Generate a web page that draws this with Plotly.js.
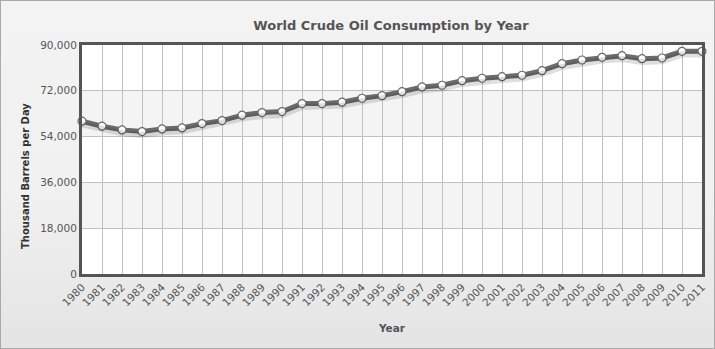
<!DOCTYPE html>
<html>
<head>
<meta charset="utf-8">
<script src="https://cdn.plot.ly/plotly-3.0.1.min.js"></script>
<style>
html,body{margin:0;padding:0;}
#wrap{width:715px;height:349px;box-sizing:border-box;border:1px solid #aaaaaa;background:linear-gradient(#f3f3f3 0%,#f1f1f1 55%,#e4e4e4 100%);}
#chart{width:713px;height:347px;}
</style>
</head>
<body>
<div id="wrap"><div id="chart"></div></div>
<script>
const years = [1980,1981,1982,1983,1984,1985,1986,1987,1988,1989,1990,1991,1992,1993,1994,1995,1996,1997,1998,1999,2000,2001,2002,2003,2004,2005,2006,2007,2008,2009,2010,2011];
const consumption = [60050,58090,56640,55970,57030,57420,59110,60290,62410,63430,63820,66960,66960,67510,69080,70100,71670,73510,74180,75990,76930,77560,78110,79910,82660,84110,85170,85800,84620,84900,87530,87530];
const yTicks = [0,18000,36000,54000,72000,90000];
const bands = [[18000,36000],[54000,72000]];

const font = "Verdana, 'DejaVu Sans', sans-serif";

const shapes = bands.map(b => ({
  type:'rect', xref:'paper', yref:'y', x0:0, x1:1, y0:b[0], y1:b[1],
  fillcolor:'#f4f4f4', line:{width:0}, layer:'below'
}));

const traces = [
  {x:years, y:consumption, type:'scatter', mode:'lines', hoverinfo:'skip', yaxis:'y2',
   line:{color:'rgba(0,0,0,0.13)', width:6}, showlegend:false},
  {x:years, y:consumption, type:'scatter', mode:'lines+markers',
   line:{color:'#6b6b6b', width:5},
   marker:{size:8, color:'#ffffff', line:{color:'#6b6b6b', width:1.2}},
   cliponaxis:false, showlegend:false}
];

const layout = {
  width:713, height:347,
  margin:{l:81, r:12, t:44, b:74},
  paper_bgcolor:'rgba(0,0,0,0)',
  plot_bgcolor:'#ffffff',
  title:{text:'<b>World Crude Oil Consumption by Year</b>', font:{family:font, size:13, color:'#555555'}, x:0.547, xanchor:'center', yref:'container', y:0.93, yanchor:'middle'},
  xaxis:{
    range:[1980,2011], tickvals:years, ticktext:years.map(String), tickangle:-45,
    tickfont:{family:font, size:10.5, color:'#555555'},
    showgrid:true, gridcolor:'#c0c0c0', gridwidth:1,
    showline:true, linecolor:'#555555', linewidth:3, mirror:true,
    ticks:'', zeroline:false,
    title:{text:'<b>Year</b>', font:{family:font, size:10.5, color:'#555555'}, standoff:18}
  },
  yaxis:{
    range:[0,90000], tickvals:yTicks, tickformat:',d',
    tickfont:{family:font, size:10.5, color:'#555555'},
    showgrid:true, gridcolor:'#c0c0c0', gridwidth:1,
    showline:true, linecolor:'#555555', linewidth:3, mirror:true,
    ticks:'', zeroline:false
  },
  yaxis2:{overlaying:'y', range:[1300,91300], visible:false, showgrid:false, zeroline:false},
  annotations:[{
    text:'<b>Thousand Barrels per Day</b>', textangle:-90,
    xref:'paper', x:-0.092, xanchor:'center', yref:'y', y:27000 + 0*0, yanchor:'middle',
    showarrow:false, font:{family:font, size:10, color:'#333333'}
  }],
  shapes:shapes
};
// y title centred visually lower than the plot centre, as in the reference
layout.annotations[0].y = 38500;

Plotly.newPlot('chart', traces, layout, {displayModeBar:false, staticPlot:true});
</script>
</body>
</html>
